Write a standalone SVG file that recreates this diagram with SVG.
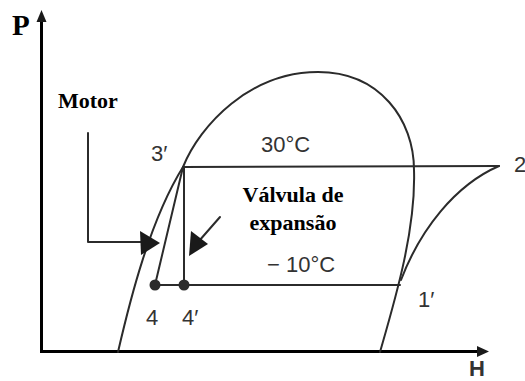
<svg xmlns="http://www.w3.org/2000/svg" width="525" height="381" viewBox="0 0 525 381">
<style>
.ax{stroke:#000;stroke-width:3;fill:none}
.ln{stroke:#2b2b2b;stroke-width:2;fill:none;stroke-linecap:round;stroke-linejoin:round}
.hd{fill:#1a1a1a;stroke:none}
.ser{font-family:"Liberation Serif","Times New Roman",serif;font-weight:bold;fill:#000}
.san{font-family:"Liberation Sans",Arial,sans-serif;fill:#333;font-size:22px}
</style>
<rect width="525" height="381" fill="#fff"/>
<g id="axes">
<line class="ax" x1="41.5" y1="353" x2="41.5" y2="20"/>
<polygon class="hd" points="41.5,10 36.5,22 46.5,22"/>
<line class="ax" x1="40" y1="351.5" x2="478" y2="351.5"/>
<polygon class="hd" points="489,351.5 477,346 477,357"/>
<text class="ser" x="12" y="35" font-size="29" font-weight="normal">P</text>
<text class="san" x="469" y="376" font-weight="bold" font-size="19">H</text>
</g>
<g id="dome">
<path class="ln" d="M118,352 C130,300 150,220 183,167 C200,125 250,72 318,72 C380,72 414,120 414,170 C416,230 395,300 380,352"/>
</g>
<g id="superheat">
<path class="ln" d="M499,166 C455,185 420,230 401,280"/>
</g>
<g id="connectors">
<line class="ln" x1="183" y1="167" x2="499" y2="166"/>
<line class="ln" x1="155" y1="285" x2="400" y2="285"/>
<line class="ln" x1="184" y1="167" x2="184" y2="285"/>
<line class="ln" x1="183" y1="167" x2="155" y2="285"/>
<polyline class="ln" points="88,133 88,242 145,242"/>
<polygon class="hd" points="140,231 160,243 141,255"/>
<line class="ln" x1="220" y1="217" x2="199" y2="241"/>
<polygon class="hd" points="191,231 208,244 189,256"/>
</g>
<g id="point-4"><circle cx="155" cy="285" r="5.5" fill="#2b2b2b"/><text class="san" x="146" y="325">4</text></g>
<g id="point-4p"><circle cx="184" cy="285" r="5.5" fill="#2b2b2b"/><text class="san" x="182" y="325">4′</text></g>
<g id="point-3p"><text class="san" x="151" y="161">3′</text></g>
<g id="point-2"><text class="san" x="514" y="172">2</text></g>
<g id="point-1p"><text class="san" x="418" y="307">1′</text></g>
<g id="label-30"><text class="san" x="261" y="152">30°C</text></g>
<g id="label-m10"><text class="san" x="267" y="272">− 10°C</text></g>
<g id="motor"><text class="ser" x="58" y="108" font-size="22">Motor</text></g>
<g id="valvula"><text class="ser" font-size="22" text-anchor="middle"><tspan x="293" y="202">Válvula de</tspan><tspan x="293" y="230">expansão</tspan></text></g>
</svg>
